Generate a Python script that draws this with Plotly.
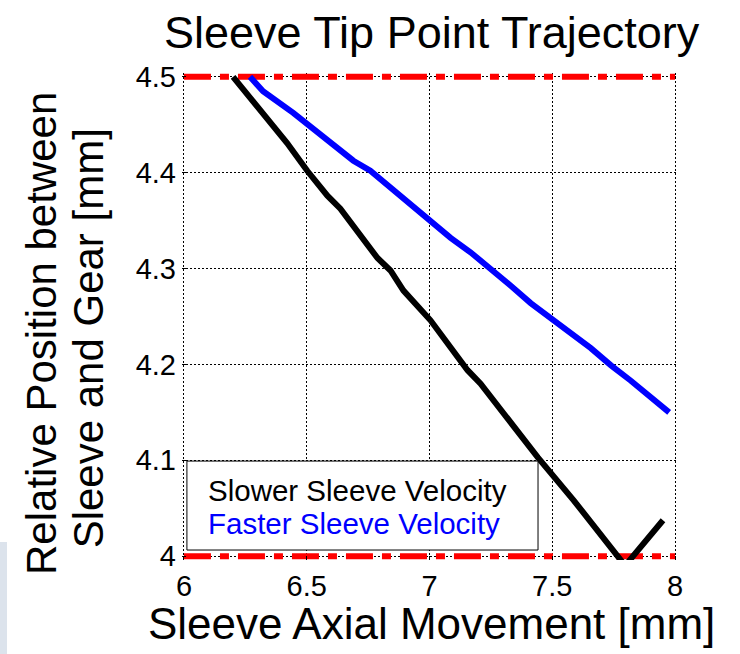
import plotly.graph_objects as go

# Sleeve tip trajectories (axial movement [mm] vs. relative position [mm])
slow_x = [6.200, 6.322, 6.420, 6.502, 6.584, 6.637, 6.788, 6.841, 6.894, 7.004,
          7.073, 7.155, 7.208, 7.290, 7.441, 7.588, 7.767, 7.797, 7.829, 7.951]
slow_y = [4.500, 4.461, 4.431, 4.402, 4.376, 4.3625, 4.311, 4.298, 4.277, 4.246,
          4.222, 4.194, 4.180, 4.152, 4.103, 4.058, 4.000, 3.990, 4.000, 4.0375]

fast_x = [6.269, 6.322, 6.445, 6.502, 6.596, 6.690, 6.759, 6.841, 6.922, 7.004,
          7.086, 7.167, 7.249, 7.331, 7.412, 7.494, 7.657, 7.739, 7.820, 7.976]
fast_y = [4.500, 4.485, 4.4625, 4.451, 4.433, 4.4125, 4.402, 4.384, 4.368, 4.350,
          4.332, 4.317, 4.300, 4.282, 4.264, 4.248, 4.217, 4.199, 4.183, 4.150]

# Upper / lower position limits
limit_x = [6.0, 8.0]
upper_limit = [4.5, 4.5]
lower_limit = [4.0, 4.0]

x_ticks = [6, 6.5, 7, 7.5, 8]
x_tick_text = ["6", "6.5", "7", "7.5", "8"]
y_ticks = [4.0, 4.1, 4.2, 4.3, 4.4, 4.5]
y_tick_text = ["4", "4.1", "4.2", "4.3", "4.4", "4.5"]

legend_labels = ["Slower Sleeve Velocity", "Faster Sleeve Velocity"]
legend_colors = ["#000000", "#0000FF"]

FONT = "Liberation Sans, Arial, Helvetica, sans-serif"

fig = go.Figure()

limit_dash = "27px,9px,9px,9px"
for ly in (upper_limit, lower_limit):
    fig.add_trace(go.Scatter(x=limit_x, y=ly, mode="lines",
                             line=dict(color="#FF0000", width=6, dash=limit_dash),
                             hoverinfo="skip", showlegend=False))

fig.add_trace(go.Scatter(x=slow_x, y=slow_y, mode="lines",
                         line=dict(color="#000000", width=6),
                         name=legend_labels[0], showlegend=False))
fig.add_trace(go.Scatter(x=fast_x, y=fast_y, mode="lines",
                         line=dict(color="#0000FF", width=6),
                         name=legend_labels[1], showlegend=False))

axis_common = dict(
    showgrid=True, gridcolor="#000000", gridwidth=1, griddash="2px,2px",
    zeroline=False, showline=False,
    ticks="inside", ticklen=4, tickcolor="#000000", tickwidth=1,
    tickfont=dict(family=FONT, size=29, color="#000000"),
)

fig.update_xaxes(range=[5.992, 8.008], tickvals=x_ticks, ticktext=x_tick_text,
                 ticklabelstandoff=6, **axis_common)
fig.update_yaxes(range=[3.996, 4.504], tickvals=y_ticks, ticktext=y_tick_text,
                 ticklabelstandoff=5, **axis_common)

# Legend box with coloured entries
fig.add_shape(type="rect", xref="x", yref="y", x0=6.012, x1=7.442, y0=4.0064, y1=4.0992,
              line=dict(color="#000000", width=1), fillcolor="#FFFFFF", layer="above")
for label, color, ly in zip(legend_labels, legend_colors, [4.069, 4.0345]):
    fig.add_annotation(x=6.090, y=ly, xref="x", yref="y", text=label, showarrow=False,
                       xanchor="left", yanchor="middle",
                       font=dict(family=FONT, size=29.5, color=color))

# Side panel strip at the lower left
fig.add_shape(type="rect", xref="paper", yref="paper", x0=-0.3677, x1=-0.3535,
              y0=-0.2, y1=0.037, line=dict(width=0), fillcolor="#DCE3EC", layer="below")

fig.add_annotation(x=0.505, y=1.084, xref="paper", yref="paper",
                   text="Sleeve Tip Point Trajectory", showarrow=False,
                   xanchor="center", yanchor="middle",
                   font=dict(family=FONT, size=45, color="#000000"))
fig.add_annotation(x=0.504, y=-0.131, xref="paper", yref="paper",
                   text="Sleeve Axial Movement [mm]", showarrow=False,
                   xanchor="center", yanchor="middle",
                   font=dict(family=FONT, size=44, color="#000000"))

# Two-line vertical axis label
y_label_lines = ["Relative Position between", "Sleeve and Gear [mm]"]
for line, xp, yp in zip(y_label_lines, [-0.285, -0.190], [0.466, 0.455]):
    fig.add_annotation(x=xp, y=yp, xref="paper", yref="paper",
                       text=line, showarrow=False, textangle=-90,
                       xanchor="center", yanchor="middle",
                       font=dict(family=FONT, size=42, color="#000000"))

fig.update_layout(
    width=740, height=654,
    margin=dict(l=182, r=63, t=73, b=94),
    paper_bgcolor="#FFFFFF", plot_bgcolor="#FFFFFF",
    showlegend=False,
)

fig.write_html("out.html")
